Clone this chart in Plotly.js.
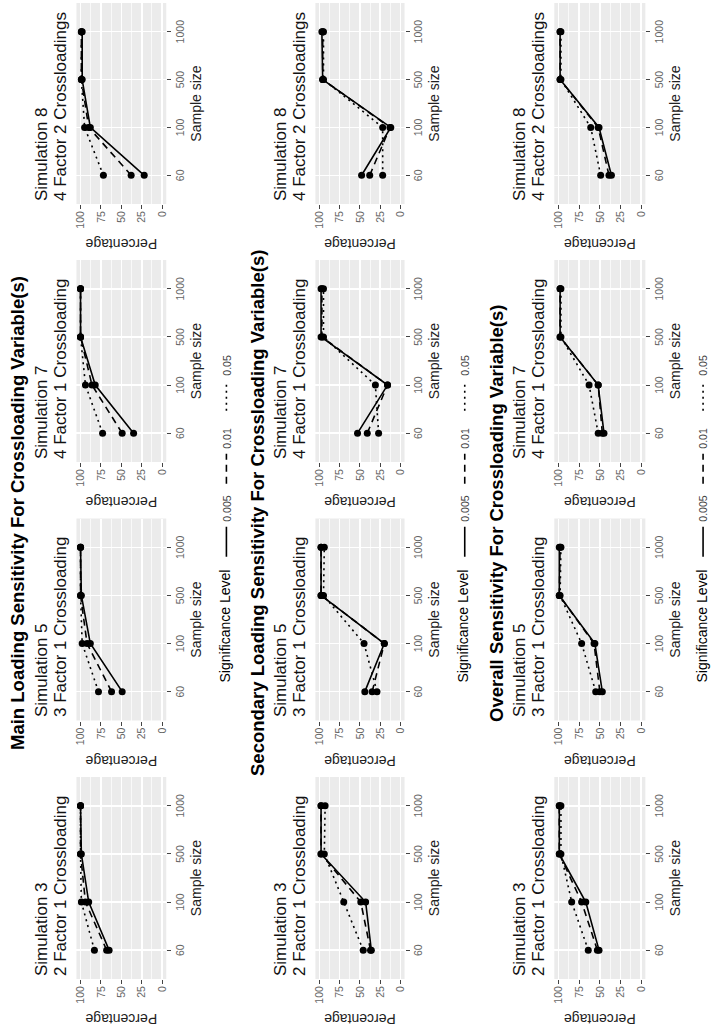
<!DOCTYPE html>
<html>
<head>
<meta charset="utf-8">
<script src="https://cdn.plot.ly/plotly-3.0.1.min.js"></script>
<style>
  html, body { margin: 0; padding: 0; background: #ffffff; overflow: hidden; width: 718px; height: 1027px; }
  #wrap { position: absolute; left: 0; top: 0; width: 1027px; height: 718px;
          transform-origin: 0 0; transform: translate(0px, 1027px) rotate(-90deg); }
</style>
</head>
<body>
<div id="wrap"><div id="plot" style="width:1027px;height:718px;"></div></div>
<script>
// ---------------- data ----------------
const sampleSizes = ["60", "100", "500", "1000"];
const levels = ["0.005", "0.01", "0.05"];
const sectionTitles = [
  "Main Loading Sensitivity For Crossloading Variable(s)",
  "Secondary Loading Sensitivity For Crossloading Variable(s)",
  "Overall Sensitivity For Crossloading Variable(s)"
];
const simNames = ["Simulation 3", "Simulation 5", "Simulation 7", "Simulation 8"];
const simDescs = ["2 Factor 1 Crossloading", "3 Factor 1 Crossloading", "4 Factor 1 Crossloading", "4 Factor 2 Crossloadings"];

// Main loading
const main_s3_p005 = [65, 90, 99, 100];
const main_s3_p01  = [68, 94, 100, 100];
const main_s3_p05  = [83, 99, 100, 100];
const main_s5_p005 = [49, 88, 99, 100];
const main_s5_p01  = [62, 92, 100, 100];
const main_s5_p05  = [78, 98, 100, 100];
const main_s7_p005 = [35, 82, 100, 100];
const main_s7_p01  = [49, 86, 100, 100];
const main_s7_p05  = [73, 94, 100, 100];
const main_s8_p005 = [22, 88, 98, 98];
const main_s8_p01  = [38, 90, 99, 99];
const main_s8_p05  = [72, 95, 99, 99];
// Secondary loading
const sec_s3_p005 = [36, 43, 98, 98];
const sec_s3_p01  = [37, 49, 98, 98];
const sec_s3_p05  = [46, 70, 94, 93];
const sec_s5_p005 = [44, 20, 98, 98];
const sec_s5_p01  = [35, 20, 98, 98];
const sec_s5_p05  = [29, 45, 95, 94];
const sec_s7_p005 = [53, 16, 98, 98];
const sec_s7_p01  = [41, 16, 97, 97];
const sec_s7_p05  = [27, 31, 95, 95];
const sec_s8_p005 = [48, 12, 96, 97];
const sec_s8_p01  = [38, 13, 96, 96];
const sec_s8_p05  = [22, 22, 95, 95];
// Overall
const all_s3_p005 = [51, 67, 99, 99];
const all_s3_p01  = [53, 72, 99, 99];
const all_s3_p05  = [64, 84, 97, 97];
const all_s5_p005 = [47, 56, 99, 99];
const all_s5_p01  = [50, 57, 99, 98];
const all_s5_p05  = [55, 72, 98, 97];
const all_s7_p005 = [45, 52, 98, 98];
const all_s7_p01  = [47, 52, 98, 98];
const all_s7_p05  = [52, 63, 97, 97];
const all_s8_p005 = [36, 51, 98, 98];
const all_s8_p01  = [39, 52, 98, 98];
const all_s8_p05  = [49, 61, 97, 97];

const sectionData = [
  [[main_s3_p005, main_s3_p01, main_s3_p05], [main_s5_p005, main_s5_p01, main_s5_p05],
   [main_s7_p005, main_s7_p01, main_s7_p05], [main_s8_p005, main_s8_p01, main_s8_p05]],
  [[sec_s3_p005, sec_s3_p01, sec_s3_p05], [sec_s5_p005, sec_s5_p01, sec_s5_p05],
   [sec_s7_p005, sec_s7_p01, sec_s7_p05], [sec_s8_p005, sec_s8_p01, sec_s8_p05]],
  [[all_s3_p005, all_s3_p01, all_s3_p05], [all_s5_p005, all_s5_p01, all_s5_p05],
   [all_s7_p005, all_s7_p01, all_s7_p05], [all_s8_p005, all_s8_p01, all_s8_p05]]
];

// ---------------- layout geometry (pixels in unrotated figure) ----------------
const W = 1027, H = 718;
const colX = [[48, 250], [306.5, 508.5], [565, 767], [823, 1024]];
const rowY = [[77, 167.4], [317.6, 407.4], [558.2, 649.9]];
const sectionTitleY = [18, 259, 500];
const legendY = [228, 468, 708];
const dashes = ["solid", "7px,5px", "2px,4px"];
const FONT = "Liberation Sans, Arial, Helvetica, sans-serif";

const data = [];
const layout = {
  width: W, height: H,
  margin: {l: 0, r: 0, t: 0, b: 0},
  paper_bgcolor: "#ffffff",
  plot_bgcolor: "#EBEBEB",
  font: {family: FONT, color: "#000"},
  showlegend: true,
  annotations: []
};

for (let s = 0; s < 3; s++) {
  const legName = s === 0 ? "legend" : "legend" + (s + 1);
  layout[legName] = {
    orientation: "h", x: 0.5, xanchor: "center", y: 1 - legendY[s] / H, yanchor: "middle",
    title: {text: "Significance Level", side: "left", font: {size: 14, color: "#000"}},
    font: {size: 10.5, color: "#444"}, bgcolor: "rgba(0,0,0,0)", itemwidth: 30, traceorder: "normal",
    entrywidth: 28, entrywidthmode: "pixels"
  };
  layout.annotations.push({
    text: sectionTitles[s], xref: "paper", yref: "paper", x: 0.5, xanchor: "center",
    y: 1 - sectionTitleY[s] / H, yanchor: "middle", showarrow: false,
    font: {size: 18.5, weight: "bold", color: "#000", family: FONT}
  });
  for (let c = 0; c < 4; c++) {
    const idx = s * 4 + c + 1;
    const xa = idx === 1 ? "xaxis" : "xaxis" + idx;
    const ya = idx === 1 ? "yaxis" : "yaxis" + idx;
    const xr = idx === 1 ? "x" : "x" + idx;
    const yr = idx === 1 ? "y" : "y" + idx;
    const x0 = colX[c][0] / W, x1 = colX[c][1] / W;
    const yTop = 1 - rowY[s][0] / H, yBot = 1 - rowY[s][1] / H;
    layout[xa] = {
      domain: [x0, x1], anchor: yr, type: "category", categoryorder: "array", categoryarray: sampleSizes,
      range: [-0.6, 3.6], showgrid: true, gridcolor: "#ffffff", gridwidth: 1.5, zeroline: false, showline: false,
      ticks: "outside", ticklen: 4, tickcolor: "#444", tickwidth: 1,
      tickfont: {size: 10.5, color: "#666"},
      title: {text: "Sample size", font: {size: 14, color: "#222"}, standoff: 6}
    };
    layout[ya] = {
      domain: [yBot, yTop], anchor: xr, range: [-5, 105], tickvals: [0, 25, 50, 75, 100],
      showgrid: true, gridcolor: "#ffffff", gridwidth: 1.5, zeroline: false, showline: false,
      minor: {tickvals: [12.5, 37.5, 62.5, 87.5], showgrid: true, gridcolor: "#ffffff", gridwidth: 0.7, ticks: ""},
      ticks: "outside", ticklen: 4, tickcolor: "#444", tickwidth: 1,
      tickfont: {size: 10.5, color: "#666"},
      title: {text: "Percentage", font: {size: 14, color: "#222"}, standoff: 6}
    };
    layout.annotations.push({
      text: simNames[c], xref: "paper", yref: "paper", x: x0, xanchor: "left", xshift: 1,
      y: yTop, yanchor: "middle", yshift: 35, showarrow: false, font: {size: 17, color: "#111"}
    });
    layout.annotations.push({
      text: simDescs[c], xref: "paper", yref: "paper", x: x0, xanchor: "left", xshift: 1,
      y: yTop, yanchor: "middle", yshift: 16, showarrow: false, font: {size: 17, color: "#111"}
    });
    for (let k = 0; k < 3; k++) {
      const vals = sectionData[s][c][k];
      data.push({
        type: "scatter", mode: "lines", x: sampleSizes, y: vals, xaxis: xr, yaxis: yr,
        name: levels[k], legend: legName, showlegend: c === 0, legendgroup: "g" + s + k,
        line: {color: "#000", width: 1.6, dash: dashes[k]}
      });
      data.push({
        type: "scatter", mode: "markers", x: sampleSizes, y: vals, xaxis: xr, yaxis: yr,
        showlegend: false, hoverinfo: "skip",
        marker: {color: "#000", size: 7}
      });
    }
  }
}

Plotly.newPlot("plot", data, layout, {staticPlot: true, displayModeBar: false});
</script>
</body>
</html>
